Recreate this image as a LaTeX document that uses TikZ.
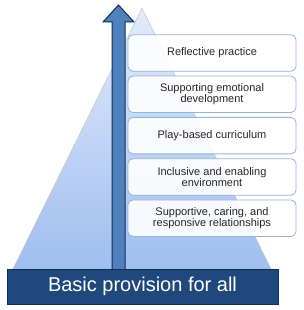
\documentclass[tikz,border=0pt]{standalone}
\usepackage{fontspec}
\setmainfont{Liberation Sans}
\usepackage{tikz}
\usetikzlibrary{arrows, math}
\definecolor{pyrtop}{RGB}{226,235,250}
\definecolor{pyrbot}{RGB}{160,190,240}
\definecolor{basefill}{RGB}{31,73,125}
\definecolor{baseline}{RGB}{20,45,85}
\definecolor{arrowfill}{RGB}{79,129,189}
\definecolor{boxline}{RGB}{149,179,215}
\tikzset{
  layer/.style={draw=boxline, line width=0.8pt, rounded corners=5pt, fill=white, fill opacity=0.9, text opacity=1,
    minimum width=168pt, minimum height=36.5pt, align=center, text=black!85,
    font=\fontsize{11}{11.5}\selectfont},
  basebox/.style={draw=baseline, line width=1pt, fill=basefill, text=white,
    minimum width=271pt, minimum height=35pt, font=\fontsize{20}{24}\selectfont}
}
\begin{document}
\begin{tikzpicture}[x=1pt, y=-1pt]
\useasboundingbox (0,0) rectangle (303,310);
\coordinate (apex) at (142,8);
\coordinate (bl) at (13,269);
\coordinate (br) at (271,269);
\shade[top color=pyrtop, bottom color=pyrbot, draw=black!25, line width=0.4pt] (apex) -- (br) -- (bl) -- cycle;
\draw[draw=baseline, line width=1pt, fill=arrowfill] (112,270) -- (112,22) -- (103,22) -- (118.5,5) -- (134,22) -- (125,22) -- (125,270) -- cycle;
\node[layer] (reflect) at (212,53) {Reflective practice};
\node[layer] (emotion) at (212,94.3) {Supporting emotional\\development};
\node[layer] (play) at (212,135.6) {Play-based curriculum};
\node[layer] (inclusive) at (212,176.9) {Inclusive and enabling\\environment};
\node[layer] (relation) at (212,218.2) {Supportive, caring, and\\responsive relationships};
\node[basebox] (base) at (142.5,286.5) {Basic provision for all};
\end{tikzpicture}
\end{document}
